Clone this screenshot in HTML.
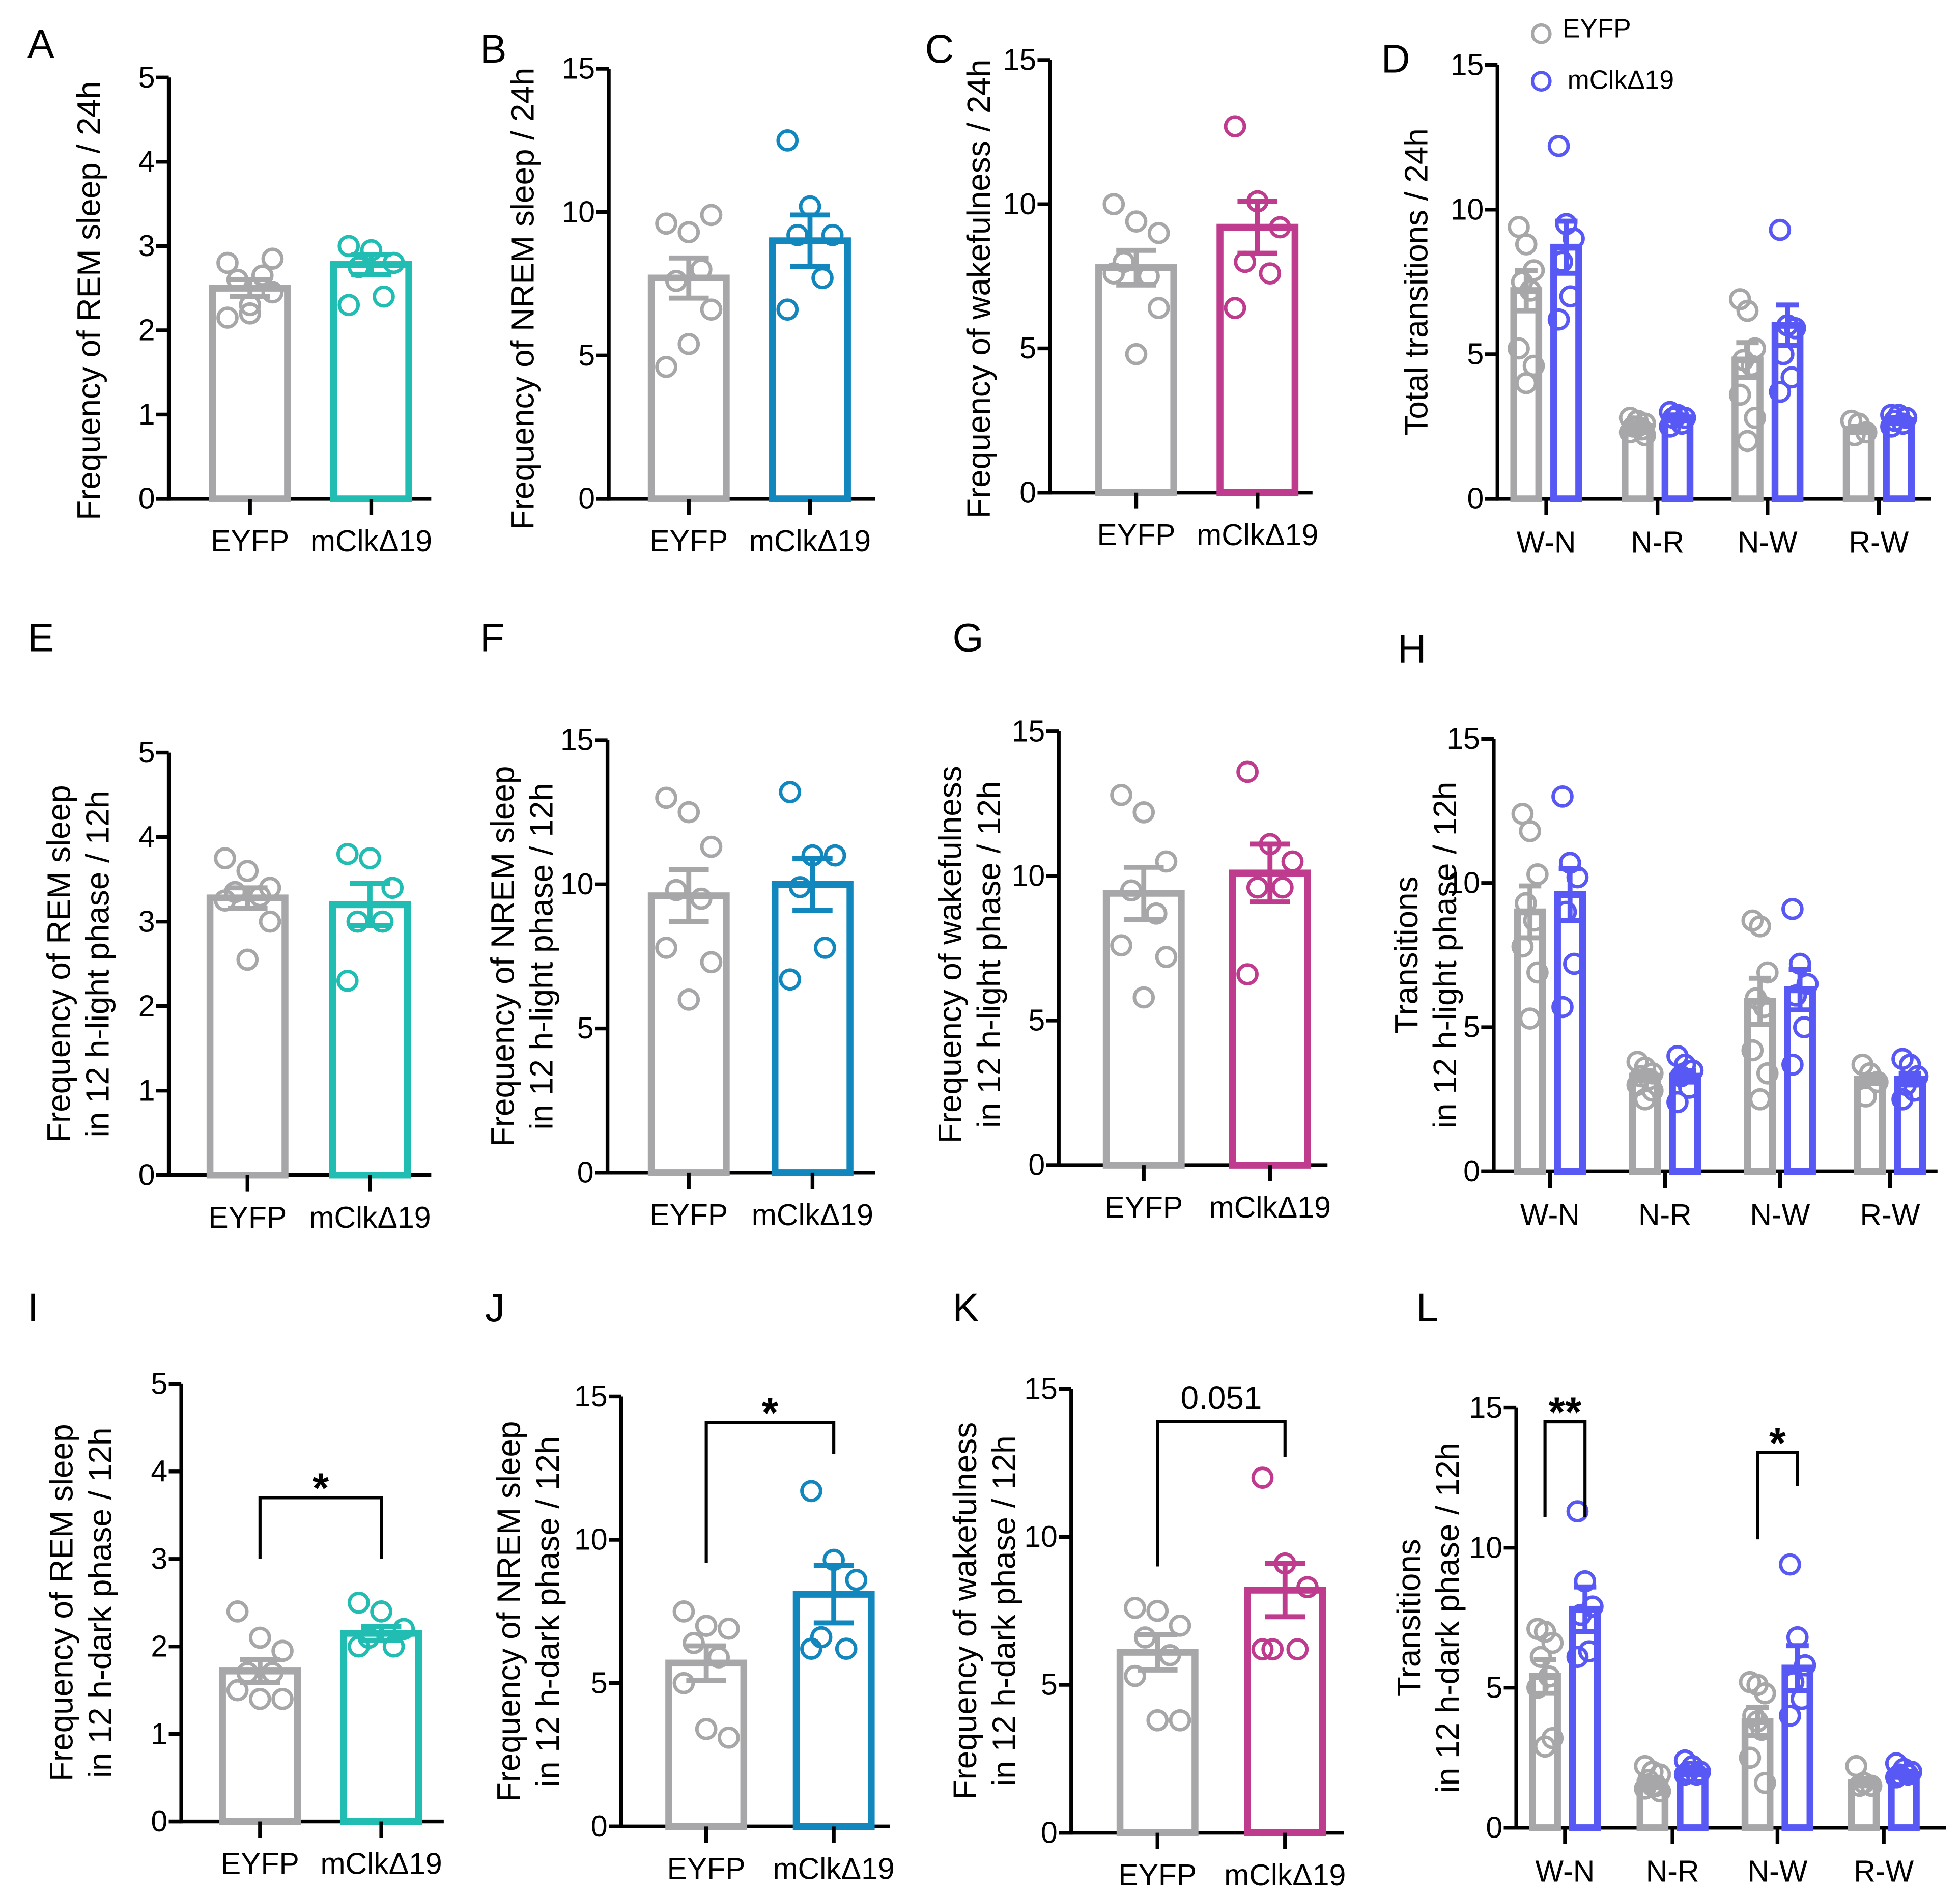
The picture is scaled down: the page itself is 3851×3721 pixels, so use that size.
<!DOCTYPE html>
<html><head><meta charset="utf-8">
<style>
html,body{margin:0;padding:0;background:#fff;}
svg{display:block;}
text{font-family:"Liberation Sans",Arial,sans-serif;fill:#000;}
</style></head>
<body>
<svg id="fig" width="3851" height="3721" viewBox="0 0 1568 1515" preserveAspectRatio="none" xmlns="http://www.w3.org/2000/svg"></svg>
<script>
// ---------- data ----------
const groups2 = ["EYFP","mClkΔ19"];
const groups4 = ["W-N","N-R","N-W","R-W"];
const ticks5 = [0,1,2,3,4,5];
const ticks15 = [0,5,10,15];

const A_means=[2.5,2.78]; const A_sems=[0.1,0.12];
const A_pts=[[2.15,2.3,2.45,2.6,2.65,2.8,2.85,2.2],[3.0,2.95,2.8,2.75,2.4,2.3]];
const B_means=[7.7,9.0]; const B_sems=[0.7,0.9];
const B_pts=[[4.6,5.4,6.6,7.6,8.0,9.6,9.9,9.3],[12.5,10.2,9.2,9.2,7.7,6.6]];
const C_means=[7.8,9.2]; const C_sems=[0.6,0.9];
const C_pts=[[10.0,9.4,9.0,8.0,7.5,7.6,6.4,4.8],[12.7,10.1,9.2,8.0,7.6,6.4]];
const D_eyfp_means=[7.2,2.5,4.8,2.4]; const D_eyfp_sems=[0.7,0.15,0.6,0.1];
const D_mclk_means=[8.7,2.8,6.0,2.7]; const D_mclk_sems=[0.9,0.1,0.7,0.1];
const D_eyfp_pts=[[9.4,8.8,7.9,7.5,7.2,5.2,4.6,4.0],[2.8,2.7,2.6,2.5,2.4,2.3,2.2,2.5],[6.9,6.5,5.2,4.8,4.6,3.6,2.8,2.0],[2.7,2.6,2.3,2.2]];
const D_mclk_pts=[[12.2,9.5,9.0,8.2,7.0,6.2],[3.0,2.9,2.8,2.8,2.6,2.5],[9.3,6.0,5.9,5.0,4.2,3.7],[2.9,2.9,2.8,2.7,2.6,2.5]];

const E_means=[3.28,3.2]; const E_sems=[0.12,0.25];
const E_pts=[[3.75,3.6,3.4,3.35,3.3,3.25,3.0,2.55],[3.8,3.75,3.4,3.0,3.0,2.3]];
const F_means=[9.6,10.0]; const F_sems=[0.9,0.9];
const F_pts=[[13.0,12.5,11.3,9.8,9.5,7.8,7.3,6.0],[13.2,11.0,11.0,9.9,7.8,6.7]];
const G_means=[9.4,10.1]; const G_sems=[0.9,1.0];
const G_pts=[[12.8,12.2,10.5,9.5,8.7,7.6,7.2,5.8],[13.6,11.1,10.5,9.6,9.6,6.6]];
const H_eyfp_means=[9.0,3.3,5.9,3.2]; const H_eyfp_sems=[0.9,0.15,0.8,0.15];
const H_mclk_means=[9.6,3.3,6.3,3.2]; const H_mclk_sems=[0.9,0.2,0.7,0.2];
const H_eyfp_pts=[[12.4,11.8,10.3,9.3,8.7,7.8,6.9,5.3],[3.8,3.6,3.4,3.3,3.2,3.0,2.8,2.5],[8.7,8.5,6.9,6.0,5.7,4.2,3.4,2.5],[3.7,3.4,3.1,2.6]];
const H_mclk_pts=[[13.0,10.7,10.2,9.0,7.2,5.7],[4.0,3.7,3.5,3.3,2.9,2.4],[9.1,7.2,6.5,6.1,5.0,3.7],[3.9,3.7,3.3,3.0,2.8,2.5]];

const I_means=[1.72,2.15]; const I_sems=[0.13,0.08];
const I_pts=[[2.4,2.1,1.95,1.7,1.7,1.5,1.4,1.4],[2.5,2.4,2.2,2.1,2.0,2.0]];
const J_means=[5.7,8.1]; const J_sems=[0.6,1.0];
const J_pts=[[7.5,7.0,6.9,6.4,5.9,5.0,3.1,3.4],[11.7,9.3,8.6,6.6,6.2,6.2]];
const K_means=[6.1,8.2]; const K_sems=[0.6,0.9];
const K_pts=[[7.6,7.5,7.0,6.6,6.0,5.3,3.8,3.8],[12.0,9.1,8.3,6.2,6.2,6.2]];
const L_eyfp_means=[5.4,1.6,3.8,1.6]; const L_eyfp_sems=[0.6,0.15,0.5,0.1];
const L_mclk_means=[7.8,2.0,5.7,1.9]; const L_mclk_sems=[0.8,0.1,0.8,0.1];
const L_eyfp_pts=[[7.1,7.0,6.6,6.1,5.4,5.0,3.2,2.9],[2.2,2.0,1.9,1.7,1.5,1.4,1.3,1.5],[5.2,5.1,4.8,4.0,3.5,2.5,1.6,3.8],[2.2,1.6,1.5,1.5]];
const L_mclk_pts=[[11.3,8.8,7.9,7.6,6.3,6.1],[2.4,2.2,2.0,2.0,1.9,1.9],[9.4,6.8,5.8,5.2,4.6,4.0],[2.3,2.1,2.0,1.9,1.9,1.8]];

const I_sig=[3.7,3.0,3.0]; const I_sigLabel="*";
const J_sig=[14.1,9.2,13.0]; const J_sigLabel="*";
const K_sig=[13.9,9.0,12.7]; const K_sigLabel="0.051";
const L_sig1=[14.5,11.1,11.1]; const L_sig1Label="**";
const L_sig2=[13.4,10.3,12.2]; const L_sig2Label="*";

// ---------- drawing ----------
const NS="http://www.w3.org/2000/svg";
const svg=document.getElementById('fig');
const GREY="#a7a7a9", TEAL="#22bdb2", BLUE="#1287bd", MAG="#bf3b8d", VIO="#5858f5";
function mk(tag,attrs,parent){const e=document.createElementNS(NS,tag);for(const k in attrs)e.setAttribute(k,attrs[k]);(parent||svg).appendChild(e);return e;}
function txt(s,attrs,parent){const e=mk('text',attrs,parent);e.textContent=s;return e;}
const jit=[-18,0,18,-10,10,-18,18,0];

function axes(g,p){
  const y=v=>p.y0-(v/p.max)*(p.y0-p.yTop);
  const ax=mk('line',{x1:p.ax,y1:p.yTop,x2:p.ax,y2:p.y0+1.5,stroke:'#000','stroke-width':3},g);
  
  const xa=mk('line',{x1:p.ax-10,y1:p.y0,x2:p.xEnd,y2:p.y0,stroke:'#000','stroke-width':3},g);
  
  p.ticks.forEach(t=>{
    mk('line',{x1:p.ax-10,y1:y(t),x2:p.ax,y2:y(t),stroke:'#000','stroke-width':3},g);
    const tl=txt(String(t),{x:p.ax-11,y:y(t)+8,'font-size':24,'text-anchor':'end'},g);
    
  });
  const two=p.title.length>1;
  const tt=mk('text',{transform:`translate(${two?p.tx-16:p.tx},${(p.yTop+p.y0)/2+p.tyOff}) rotate(-90)`,'font-size':26,'text-anchor':'middle'},g);
  
  p.title.forEach((ln,i)=>{const ts=mk('tspan',{x:0,dy:i===0?0:31},tt);ts.textContent=ln;});
  const lt=txt(p.letter,{x:p.lx,y:p.ly,'font-size':32},g);
  
  return y;
}
function bar(g,y,cx,w,mean,sem,pts,color,sw,y0,name){
  const b=mk('rect',{x:cx-w/2,y:y(mean),width:w,height:y0-y(mean),fill:'none',stroke:color,'stroke-width':sw},g);
  
  pts.forEach((v,i)=>{const c=mk('circle',{cx:cx+jit[i%8]*(w/60),cy:y(v),r:7.5,fill:'none',stroke:color,'stroke-width':2.8},g);
    });
  const hw=w>40?16:9;
  mk('line',{x1:cx,y1:y(mean+sem),x2:cx,y2:y(mean-sem),stroke:color,'stroke-width':4},g);
  mk('line',{x1:cx-hw,y1:y(mean+sem),x2:cx+hw,y2:y(mean+sem),stroke:color,'stroke-width':4},g);
  mk('line',{x1:cx-hw,y1:y(mean-sem),x2:cx+hw,y2:y(mean-sem),stroke:color,'stroke-width':4},g);
}
function sig(g,y,x1,x2,s,label){
  mk('polyline',{points:`${x1},${y(s[1])} ${x1},${y(s[0])} ${x2},${y(s[0])} ${x2},${y(s[2])}`,fill:'none',stroke:'#000','stroke-width':2.5},g);
  const big=label.indexOf('*')>=0;
  const t=txt(label,{x:(x1+x2)/2,y:y(s[0])-(big?-4:10),'font-size':big?34:26,'text-anchor':'middle','font-weight':big?'bold':'normal'},g);
  
}
function panel2(p,means,sems,pts,color,sigv,siglabel){
  const g=mk('g',{});
  const y=axes(g,p);
  groups2.forEach((name,i)=>{
    const cx=p.cx[i];
    bar(g,y,cx,60,means[i],sems[i],pts[i],i===0?GREY:color,5.5,p.y0,'bar-'+(i===0?'eyfp':'mclk'));
    mk('line',{x1:cx,y1:p.y0,x2:cx,y2:p.y0+13,stroke:'#000','stroke-width':3},g);
    const l=txt(name,{x:cx,y:p.y0+42,'font-size':24,'text-anchor':'middle'},g);
    
  });
  if(sigv) sig(g,y,p.cx[0],p.cx[1],sigv,siglabel);
}
function panel4(p,em,es,ep,mm,ms,mp,sigs){
  const g=mk('g',{});
  const y=axes(g,p);
  groups4.forEach((name,i)=>{
    const cx=p.cx[i];
    bar(g,y,cx-16,20,em[i],es[i],ep[i],GREY,5.5,p.y0,'bar-eyfp-'+name.toLowerCase());
    bar(g,y,cx+16,20,mm[i],ms[i],mp[i],VIO,5.5,p.y0,'bar-mclk-'+name.toLowerCase());
    mk('line',{x1:cx,y1:p.y0,x2:cx,y2:p.y0+13,stroke:'#000','stroke-width':3},g);
    const l=txt(name,{x:cx,y:p.y0+43,'font-size':24,'text-anchor':'middle'},g);
    
  });
  (sigs||[]).forEach(s=>sig(g,y,p.cx[s[0]]-16,p.cx[s[0]]+16,s[1],s[2]));
}

// Row 1
panel2({letter:'A',lx:22,ly:46,ax:135,yTop:62,y0:399,max:5,ticks:ticks5,xEnd:345,cx:[200,297],tx:80,tyOff:10,title:['Frequency of REM sleep / 24h']},A_means,A_sems,A_pts,TEAL);
panel2({letter:'B',lx:384,ly:50,ax:487,yTop:55,y0:399,max:15,ticks:ticks15,xEnd:700,cx:[551,648],tx:427,tyOff:12,title:['Frequency of NREM sleep / 24h']},B_means,B_sems,B_pts,BLUE);
panel2({letter:'C',lx:740,ly:50,ax:840,yTop:48,y0:394,max:15,ticks:ticks15,xEnd:1050,cx:[909,1006],tx:792,tyOff:10,title:['Frequency of wakefulness / 24h']},C_means,C_sems,C_pts,MAG);
panel4({letter:'D',lx:1105,ly:58,ax:1198,yTop:52,y0:399,max:15,ticks:ticks15,xEnd:1545,cx:[1237,1326,1414,1503],tx:1142,tyOff:0,title:['Total transitions / 24h']},D_eyfp_means,D_eyfp_sems,D_eyfp_pts,D_mclk_means,D_mclk_sems,D_mclk_pts);
(function(){const g=mk('g',{});
 const e1=mk('circle',{cx:1233,cy:27,r:7,fill:'none',stroke:GREY,'stroke-width':2.6},g);
 const t1=txt('EYFP',{x:1250,y:30,'font-size':21},g);
 const e2=mk('circle',{cx:1233,cy:65,r:7,fill:'none',stroke:VIO,'stroke-width':2.6},g);
 const t2=txt('mClkΔ19',{x:1254,y:71,'font-size':21},g);})();

// Row 2
panel2({letter:'E',lx:22,ly:521,ax:135,yTop:602,y0:940,max:5,ticks:ticks5,xEnd:345,cx:[198,296],tx:72,tyOff:0,title:['Frequency of REM sleep','in 12 h-light phase / 12h']},E_means,E_sems,E_pts,TEAL);
panel2({letter:'F',lx:384,ly:521,ax:486,yTop:592,y0:938,max:15,ticks:ticks15,xEnd:700,cx:[551,650],tx:427,tyOff:0,title:['Frequency of NREM sleep','in 12 h-light phase / 12h']},F_means,F_sems,F_pts,BLUE);
panel2({letter:'G',lx:762,ly:521,ax:847,yTop:585,y0:932,max:15,ticks:ticks15,xEnd:1062,cx:[915,1016],tx:785,tyOff:5,title:['Frequency of wakefulness','in 12 h-light phase / 12h']},G_means,G_sems,G_pts,MAG);
panel4({letter:'H',lx:1118,ly:530,ax:1195,yTop:591,y0:937,max:15,ticks:ticks15,xEnd:1550,cx:[1240,1332,1424,1512],tx:1150,tyOff:0,title:['Transitions','in 12 h-light phase / 12h']},H_eyfp_means,H_eyfp_sems,H_eyfp_pts,H_mclk_means,H_mclk_sems,H_mclk_pts);

// Row 3
panel2({letter:'I',lx:22,ly:1057,ax:145,yTop:1107,y0:1457,max:5,ticks:ticks5,xEnd:355,cx:[208,305],tx:74,tyOff:0,title:['Frequency of REM sleep','in 12 h-dark phase / 12h']},I_means,I_sems,I_pts,TEAL,I_sig,I_sigLabel);
panel2({letter:'J',lx:388,ly:1057,ax:497,yTop:1117,y0:1461,max:15,ticks:ticks15,xEnd:712,cx:[565,667],tx:432,tyOff:0,title:['Frequency of NREM sleep','in 12 h-dark phase / 12h']},J_means,J_sems,J_pts,BLUE,J_sig,J_sigLabel);
panel2({letter:'K',lx:762,ly:1057,ax:857,yTop:1111,y0:1466,max:15,ticks:ticks15,xEnd:1075,cx:[926,1028],tx:797,tyOff:0,title:['Frequency of wakefulness','in 12 h-dark phase / 12h']},K_means,K_sems,K_pts,MAG,K_sig,K_sigLabel);
panel4({letter:'L',lx:1133,ly:1057,ax:1213,yTop:1126,y0:1462,max:15,ticks:ticks15,xEnd:1557,cx:[1252,1338,1422,1507],tx:1152,tyOff:0,title:['Transitions','in 12 h-dark phase / 12h']},L_eyfp_means,L_eyfp_sems,L_eyfp_pts,L_mclk_means,L_mclk_sems,L_mclk_pts,[[0,L_sig1,L_sig1Label],[2,L_sig2,L_sig2Label]]);
</script>
</body></html>
